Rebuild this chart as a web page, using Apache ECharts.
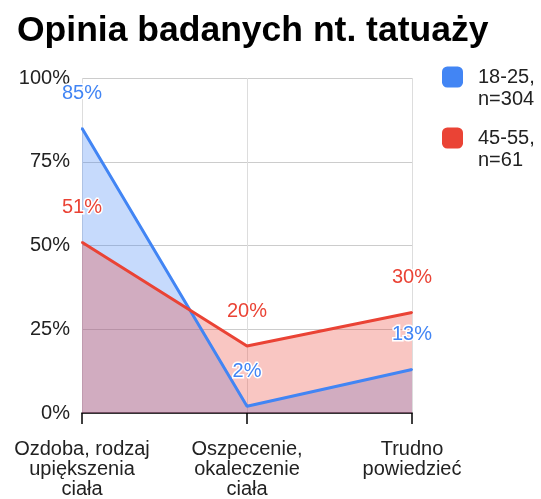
<!DOCTYPE html>
<html><head><meta charset="utf-8">
<script src="https://cdn.jsdelivr.net/npm/echarts@6/dist/echarts.min.js"></script>
<style>html,body{margin:0;padding:0;background:#fff}#c{width:541px;height:499px}</style>
</head><body><div id="c"></div>
<script>
const categories = ['Ozdoba, rodzaj\nupiększenia\nciała', 'Oszpecenie,\nokaleczenie\nciała', 'Trudno\npowiedzieć'];
const seriesNames = ['18-25', '45-55'];
const legendLabels = ['18-25,\nn=304', '45-55,\nn=61'];
const young = [85, 2, 13];
const old = [51, 20, 30];
const colors = ['#4285F4', '#EA4335'];

const FONT = 'Liberation Sans, Arial, sans-serif';
const chart = echarts.init(document.getElementById('c'));
function areaSeries(name, data, color, z) {
  return {
    name: name + '_area', type: 'line', data: data, z: z,
    symbol: 'none', lineStyle: {width: 0}, itemStyle: {color: color},
    areaStyle: {color: color, opacity: 0.3}, silent: true, emphasis: {disabled: true}
  };
}
function lineSeries(name, data, color, z) {
  return {
    name: name, type: 'line', data: data, z: z,
    symbol: 'circle', symbolSize: 2, showSymbol: true,
    lineStyle: {color: color, width: 3},
    itemStyle: {color: color},
    label: {show: true, position: 'top', distance: 24, formatter: '{c}%', color: color,
      fontSize: 20, fontFamily: FONT, textBorderColor: '#fff', textBorderWidth: 3},
    emphasis: {disabled: true}
  };
}
chart.setOption({
  animation: false,
  title: {text: 'Opinia badanych nt. tatuaży', left: 12, top: 8,
    textStyle: {fontSize: 35.5, fontWeight: 'bold', color: '#000', fontFamily: FONT}},
  legend: {
    orient: 'vertical', left: 442, top: 44, padding: 0, itemWidth: 21, itemHeight: 21, itemGap: -5,
    icon: 'roundRect',
    data: seriesNames.map((n, i) => ({name: n, itemStyle: {color: colors[i], opacity: 1}})),
    formatter: n => ' \n' + legendLabels[seriesNames.indexOf(n)],
    textStyle: {fontSize: 20, lineHeight: 22, color: '#222', fontFamily: FONT, padding: [0, 0, 0, 10]}
  },
  grid: {left: 82, right: 129, top: 78, bottom: 85},
  xAxis: {
    type: 'category', data: categories, boundaryGap: false,
    axisLine: {lineStyle: {color: '#000', width: 1.5}},
    axisTick: {show: true, length: 11, lineStyle: {color: '#000', width: 1.5}},
    axisLabel: {fontSize: 20, lineHeight: 20, color: '#222', margin: 26, fontFamily: FONT, interval: 0},
    splitLine: {show: true, lineStyle: {color: '#ddd', width: 1}}
  },
  yAxis: {
    type: 'value', min: 0, max: 100, interval: 25,
    axisLine: {show: false}, axisTick: {show: false},
    axisLabel: {formatter: '{value}%', fontSize: 20, color: '#222', margin: 12, fontFamily: FONT},
    splitLine: {lineStyle: {color: '#ccc', width: 1}}
  },
  series: [
    areaSeries(seriesNames[0], young, colors[0], 1),
    areaSeries(seriesNames[1], old, colors[1], 2),
    lineSeries(seriesNames[0], young, colors[0], 3),
    lineSeries(seriesNames[1], old, colors[1], 4)
  ]
});
</script></body></html>
